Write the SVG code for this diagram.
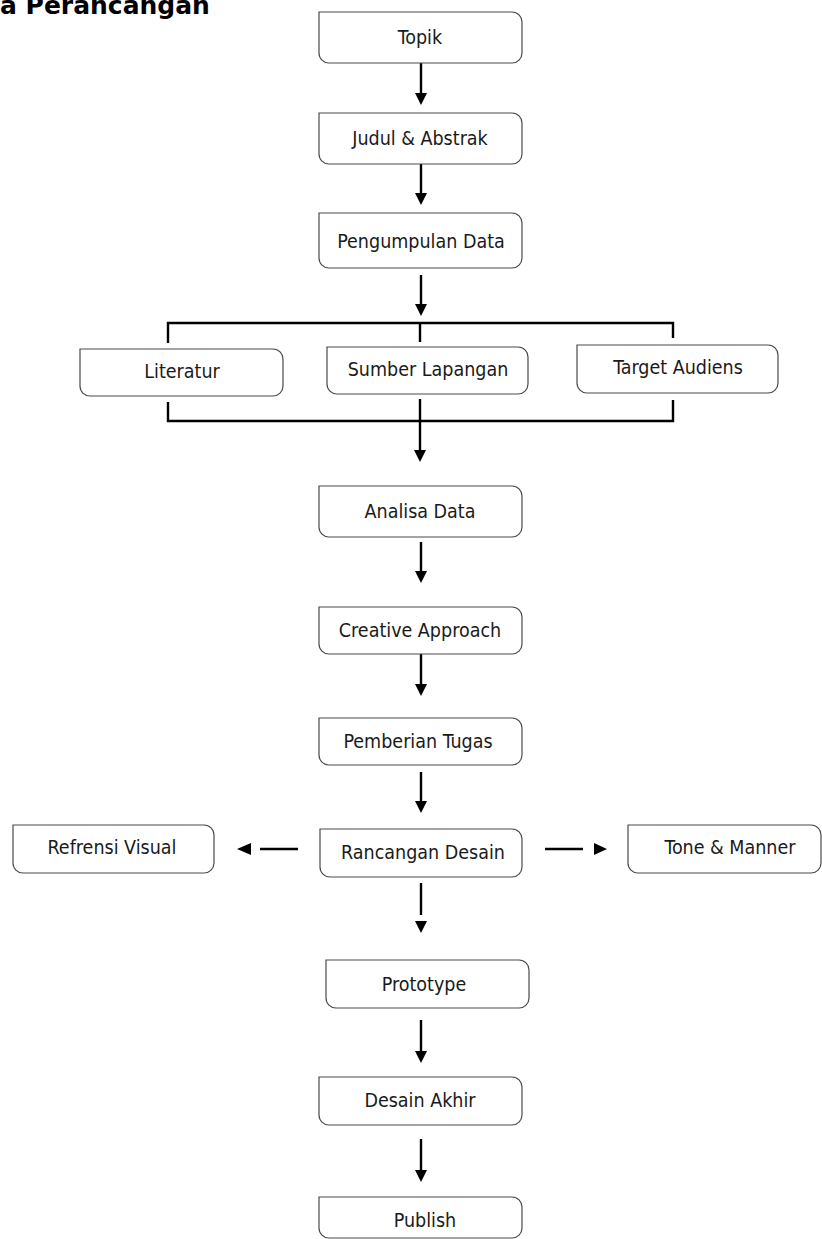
<svg xmlns="http://www.w3.org/2000/svg" width="822" height="1239" viewBox="0 0 822 1239">
<style>
.box{fill:#fff;stroke:#4a4a4a;stroke-width:1.2}
.lbl{font-family:"DejaVu Sans Condensed","DejaVu Sans",sans-serif;font-stretch:condensed;font-size:19.5px;fill:#1a1a1a;text-anchor:middle}
.title{font-family:"DejaVu Sans","Liberation Sans",sans-serif;font-weight:bold;font-size:25px;fill:#000}
.ln{stroke:#000;stroke-width:2.4;fill:none}
.hd{fill:#000}
</style>
<rect width="822" height="1239" fill="#fff"/>
<text class="title" x="0" y="14">a Perancangan</text>

<g id="connectors">
<line class="ln" x1="421" y1="63" x2="421" y2="94"/><polygon class="hd" points="415,93 427,93 421,105"/>
<line class="ln" x1="421" y1="164" x2="421" y2="194"/><polygon class="hd" points="415,193 427,193 421,205"/>
<line class="ln" x1="421" y1="275" x2="421" y2="305"/><polygon class="hd" points="415,304 427,304 421,316"/>
<path class="ln" d="M168,343 V323 H673 V338 M420,323 V342"/>
<path class="ln" d="M168,402 V421 H673 V400 M420,399 V421"/>
<line class="ln" x1="420" y1="421" x2="420" y2="451"/><polygon class="hd" points="414,450 426,450 420,462"/>
<line class="ln" x1="421" y1="542" x2="421" y2="572"/><polygon class="hd" points="415,571 427,571 421,583"/>
<line class="ln" x1="421" y1="654" x2="421" y2="685"/><polygon class="hd" points="415,684 427,684 421,696"/>
<line class="ln" x1="421" y1="772" x2="421" y2="802"/><polygon class="hd" points="415,801 427,801 421,813"/>
<line class="ln" x1="260" y1="849" x2="298" y2="849"/><polygon class="hd" points="251,843 251,855 237,849"/>
<line class="ln" x1="545" y1="849" x2="583" y2="849"/><polygon class="hd" points="594,843 594,855 607,849"/>
<line class="ln" x1="421" y1="883" x2="421" y2="915"/><polygon class="hd" points="415,921 427,921 421,933"/>
<line class="ln" x1="421" y1="1020" x2="421" y2="1052"/><polygon class="hd" points="415,1051 427,1051 421,1063"/>
<line class="ln" x1="421" y1="1139" x2="421" y2="1171"/><polygon class="hd" points="415,1170 427,1170 421,1182"/>
</g>

<g id="topik"><path class="box" d="M319,12 H512 A10,10 0 0 1 522,22 V53 A10,10 0 0 1 512,63 H329 A10,10 0 0 1 319,53 Z"/><text class="lbl" x="420" y="44">Topik</text></g>
<g id="judul"><path class="box" d="M319,113 H512 A10,10 0 0 1 522,123 V154 A10,10 0 0 1 512,164 H329 A10,10 0 0 1 319,154 Z"/><text class="lbl" x="420" y="145">Judul &amp; Abstrak</text></g>
<g id="pengumpulan"><path class="box" d="M319,213 H512 A10,10 0 0 1 522,223 V258 A10,10 0 0 1 512,268 H329 A10,10 0 0 1 319,258 Z"/><text class="lbl" x="421" y="248">Pengumpulan Data</text></g>
<g id="literatur"><path class="box" d="M80,349 H273 A10,10 0 0 1 283,359 V386 A10,10 0 0 1 273,396 H90 A10,10 0 0 1 80,386 Z"/><text class="lbl" x="182" y="378">Literatur</text></g>
<g id="sumber"><path class="box" d="M327,347 H518 A10,10 0 0 1 528,357 V384 A10,10 0 0 1 518,394 H337 A10,10 0 0 1 327,384 Z"/><text class="lbl" x="428" y="376">Sumber Lapangan</text></g>
<g id="target"><path class="box" d="M577,345 H768 A10,10 0 0 1 778,355 V383 A10,10 0 0 1 768,393 H587 A10,10 0 0 1 577,383 Z"/><text class="lbl" x="678" y="374">Target Audiens</text></g>
<g id="analisa"><path class="box" d="M319,486 H512 A10,10 0 0 1 522,496 V527 A10,10 0 0 1 512,537 H329 A10,10 0 0 1 319,527 Z"/><text class="lbl" x="420" y="518">Analisa Data</text></g>
<g id="creative"><path class="box" d="M319,607 H512 A10,10 0 0 1 522,617 V644 A10,10 0 0 1 512,654 H329 A10,10 0 0 1 319,644 Z"/><text class="lbl" x="420" y="637">Creative Approach</text></g>
<g id="pemberian"><path class="box" d="M319,718 H512 A10,10 0 0 1 522,728 V755 A10,10 0 0 1 512,765 H329 A10,10 0 0 1 319,755 Z"/><text class="lbl" x="418" y="748">Pemberian Tugas</text></g>
<g id="refrensi"><path class="box" d="M13,825 H204 A10,10 0 0 1 214,835 V863 A10,10 0 0 1 204,873 H23 A10,10 0 0 1 13,863 Z"/><text class="lbl" x="112" y="854">Refrensi Visual</text></g>
<g id="rancangan"><path class="box" d="M320,829 H512 A10,10 0 0 1 522,839 V867 A10,10 0 0 1 512,877 H330 A10,10 0 0 1 320,867 Z"/><text class="lbl" x="423" y="859">Rancangan Desain</text></g>
<g id="tone"><path class="box" d="M628,825 H811 A10,10 0 0 1 821,835 V863 A10,10 0 0 1 811,873 H638 A10,10 0 0 1 628,863 Z"/><text class="lbl" x="730" y="854">Tone &amp; Manner</text></g>
<g id="prototype"><path class="box" d="M326,960 H519 A10,10 0 0 1 529,970 V998 A10,10 0 0 1 519,1008 H336 A10,10 0 0 1 326,998 Z"/><text class="lbl" x="424" y="991">Prototype</text></g>
<g id="desain-akhir"><path class="box" d="M319,1077 H512 A10,10 0 0 1 522,1087 V1115 A10,10 0 0 1 512,1125 H329 A10,10 0 0 1 319,1115 Z"/><text class="lbl" x="420" y="1107">Desain Akhir</text></g>
<g id="publish"><path class="box" d="M319,1197 H512 A10,10 0 0 1 522,1207 V1228 A10,10 0 0 1 512,1238 H329 A10,10 0 0 1 319,1228 Z"/><text class="lbl" x="425" y="1227">Publish</text></g>
</svg>
